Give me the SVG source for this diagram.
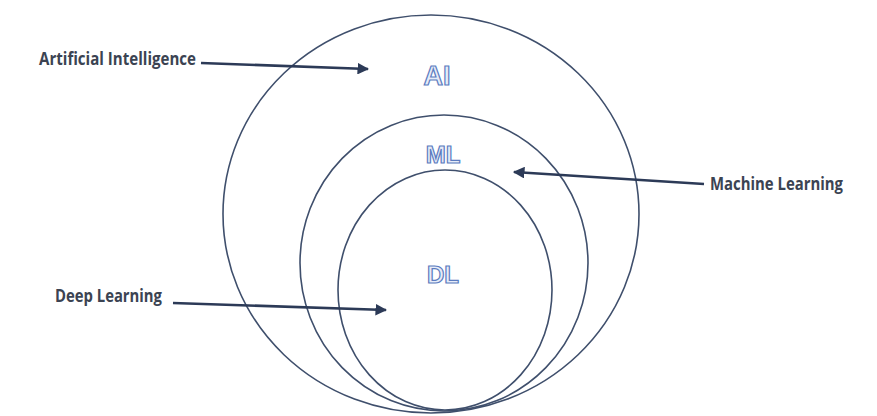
<svg xmlns="http://www.w3.org/2000/svg" width="877" height="416" viewBox="0 0 877 416">
<defs>
<style>
.ring{fill:none;stroke:#3f4f6c;stroke-width:1.6}
.lbl{font-family:"Open Sans","Liberation Sans",sans-serif;font-weight:700;font-size:17px;fill:#3b4352}
.big{font-family:"Liberation Sans","DejaVu Sans",sans-serif;font-weight:700;fill:#e6ecf8;stroke:#5c7cc0;stroke-width:1.2;text-anchor:middle}
.arr{stroke:#2c3a57;stroke-width:2.6;fill:none;marker-end:url(#ah)}
</style>
<marker id="ah" viewBox="0 0 10 10" refX="9" refY="5" markerWidth="4.5" markerHeight="4.5" orient="auto" markerUnits="strokeWidth">
<path d="M0,0 L10,5 L0,10 z" fill="#2c3a57"/>
</marker>
</defs>
<rect width="877" height="416" fill="#ffffff"/>
<g id="ai">
<ellipse class="ring" cx="431" cy="214" rx="208" ry="199"/>
<text class="big" x="437" y="85" font-size="27">AI</text>
</g>
<g id="ml">
<ellipse class="ring" cx="444" cy="263" rx="144" ry="148"/>
<text class="big" x="443" y="163" font-size="24">ML</text>
</g>
<g id="dl">
<ellipse class="ring" cx="445" cy="290" rx="107" ry="120"/>
<text class="big" x="443" y="283" font-size="24">DL</text>
</g>
<g id="lbl-ai"><text class="lbl" x="39" y="65" textLength="157" lengthAdjust="spacingAndGlyphs">Artificial Intelligence</text></g>
<g id="lbl-ml"><text class="lbl" x="710" y="190" textLength="133" lengthAdjust="spacingAndGlyphs">Machine Learning</text></g>
<g id="lbl-dl"><text class="lbl" x="55" y="302" textLength="107" lengthAdjust="spacingAndGlyphs">Deep Learning</text></g>
<g id="connectors">
<line class="arr" x1="201" y1="63" x2="368" y2="69"/>
<line class="arr" x1="704" y1="184" x2="514" y2="172"/>
<line class="arr" x1="173" y1="303" x2="386" y2="310"/>
</g>
</svg>
